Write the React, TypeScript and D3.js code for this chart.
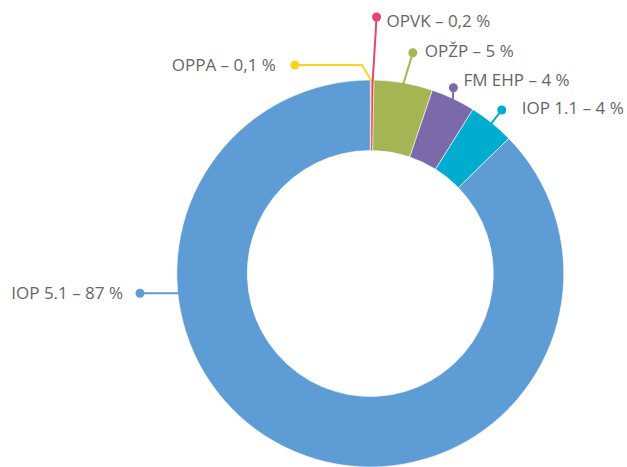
import React from "react";
import * as d3 from "d3";

// programmes and their share of the allocation (%), clockwise from 12 o'clock
const programmes = ["OPPA", "OPVK", "OPŽP", "FM EHP", "IOP 1.1", "IOP 5.1"];
const shares = [0.1, 0.2, 4.9, 3.7, 3.8, 87.3];
const shareLabels = ["0,1 %", "0,2 %", "5 %", "4 %", "4 %", "87 %"];
const colors = ["#fdd31b", "#e9446f", "#a6b553", "#7c69aa", "#00acd0", "#5d9cd4"];

const width = 627;
const height = 467;
const cx = 370.3;
const cy = 273.5;
const outerR = 193.5;
const innerR = 123;

// where each label's dot sits (polar, degrees clockwise from top) and how its text is offset
const labelLayout = [
  { deg: -19.9, r: 221.7, link: "elbow", anchor: "end", dx: -19, dy: 6 },
  { deg: 1.4, r: 256.6, link: "radial", anchor: "start", dx: 10, dy: 10 },
  { deg: 10.9, r: 224.8, link: "radial", anchor: "start", dx: 12, dy: 4 },
  { deg: 24.1, r: 203.5, link: "radial", anchor: "start", dx: 10, dy: -2 },
  { deg: 38.8, r: 209.8, link: "radial", anchor: "start", dx: 20, dy: 4.5 },
  { deg: 265.1, r: 231.1, link: "horizontal", anchor: "end", dx: -17, dy: 6 },
];

const polar = (a: number, r: number): [number, number] => [
  cx + r * Math.sin(a),
  cy - r * Math.cos(a),
];

export default function App() {
  const pie = d3
    .pie<number>()
    .sort(null)
    .value((d) => d)
    .startAngle(0)
    .endAngle(2 * Math.PI);
  const arcs = pie(shares);

  const arc = d3
    .arc<d3.PieArcDatum<number>>()
    .innerRadius(innerR)
    .outerRadius(outerR);

  const line = d3.line();

  return (
    <svg
      width={width}
      height={height}
      style={{ position: "absolute", left: 0, top: 0, display: "block" }}
      fontFamily="'Open Sans', sans-serif"
    >
      <rect width={width} height={height} fill="#ffffff" />
      <g transform={`translate(${cx},${cy})`}>
        {arcs.map((a, i) => (
          <path
            key={programmes[i]}
            d={arc(a) || ""}
            fill={colors[i]}
            stroke="#ffffff"
            strokeWidth={i < 2 ? 0 : 0.6}
          />
        ))}
      </g>
      {arcs.map((a, i) => {
        const lay = labelLayout[i];
        const mid = (a.startAngle + a.endAngle) / 2;
        const dot = polar((lay.deg * Math.PI) / 180, lay.r);
        let pts: [number, number][];
        if (lay.link === "elbow") {
          const start = polar(mid, outerR);
          pts = [start, [start[0] - 9, dot[1]], dot];
        } else if (lay.link === "horizontal") {
          const off = dot[1] - cy;
          const edgeX = cx - Math.sqrt(outerR * outerR - off * off);
          pts = [[edgeX + 2, dot[1]], dot];
        } else {
          pts = [polar(mid, outerR - 1), dot];
        }
        return (
          <g key={"lab" + i}>
            <path
              d={line(pts) || ""}
              fill="none"
              stroke={colors[i]}
              strokeWidth={2}
            />
            <circle cx={dot[0]} cy={dot[1]} r={4.5} fill={colors[i]} />
            <text
              x={dot[0] + lay.dx}
              y={dot[1] + lay.dy}
              textAnchor={lay.anchor}
              fontSize={17}
              fill="#666666"
            >
              {`${programmes[i]} – ${shareLabels[i]}`}
            </text>
          </g>
        );
      })}
    </svg>
  );
}
